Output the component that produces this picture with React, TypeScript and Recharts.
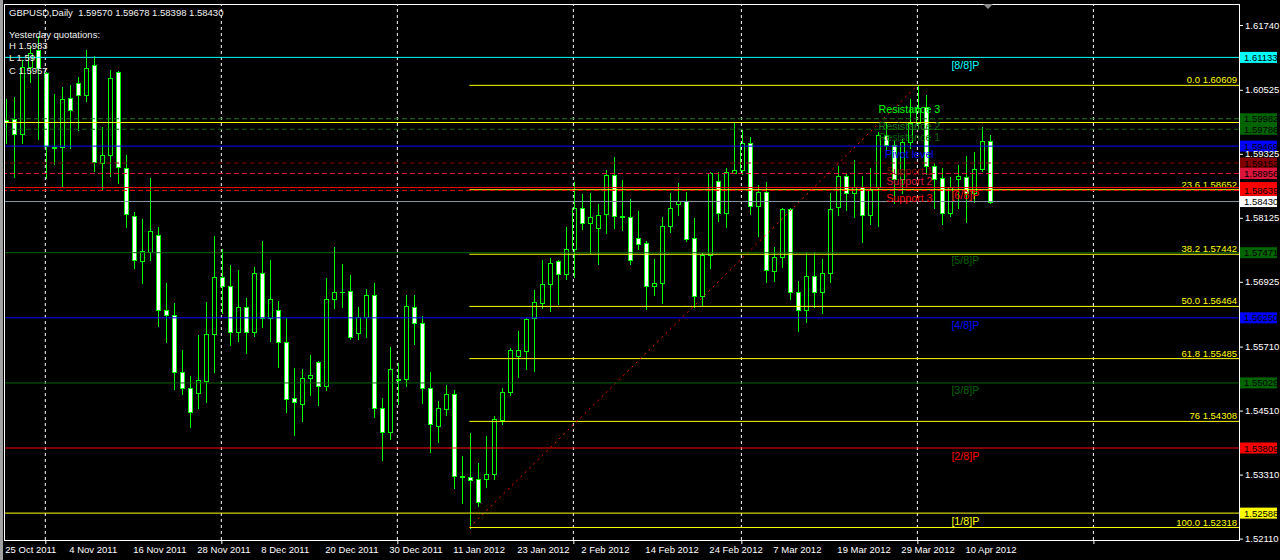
import React from "react";
import { ComposedChart, Bar, XAxis, YAxis, ReferenceLine, ReferenceDot } from "recharts";

const FONT = '"Liberation Sans", Arial, sans-serif';
const LIME = "#00ff00";

// x axis: bar index of each date label
const dateTicks = [0, 8, 16, 24, 32, 40, 48, 56, 64, 72, 80, 88, 96, 104, 112, 120];
const dateLabels = [
  "25 Oct 2011", "4 Nov 2011", "16 Nov 2011", "28 Nov 2011", "8 Dec 2011", "20 Dec 2011",
  "30 Dec 2011", "11 Jan 2012", "23 Jan 2012", "2 Feb 2012", "14 Feb 2012", "24 Feb 2012",
  "7 Mar 2012", "19 Mar 2012", "29 Mar 2012", "10 Apr 2012",
];
// first bar of each month (vertical grid)
const monthGrid = [5, 27, 49, 71, 92, 114, 136];

// price labels that are not covered by the coloured level boxes
const priceTicks = [1.6174, 1.60525, 1.59325, 1.58125, 1.56925, 1.5571, 1.5451, 1.5331, 1.5211];

// daily GBPUSD candles, 25 Oct 2011 .. 13 Apr 2012
const opens = [
  1.59968, 1.59972, 1.59691, 1.60958, 1.61272, 1.60835, 1.59462, 1.59447, 1.60366, 1.60647,
  1.60422, 1.6099, 1.59158, 1.59297, 1.60853, 1.59053, 1.58165, 1.5731, 1.5749, 1.57797,
  1.56391, 1.56297, 1.55228, 1.54928, 1.54846, 1.55071, 1.55941, 1.5701, 1.56841, 1.55978,
  1.56447, 1.55978, 1.57085, 1.56252, 1.56391, 1.55791, 1.54741, 1.5464, 1.55116, 1.55416,
  1.54966, 1.56597, 1.56743, 1.56747, 1.5596, 1.56271, 1.56672, 1.54553, 1.54115, 1.55103,
  1.55097, 1.56447, 1.56147, 1.54928, 1.54227, 1.54546, 1.54816, 1.53284, 1.5326, 1.53222,
  1.53222, 1.53316, 1.54334, 1.54859, 1.5554, 1.55633, 1.56241, 1.56533, 1.56878, 1.5731,
  1.57066, 1.57546, 1.58303, 1.58022, 1.5794, 1.58191, 1.58922, 1.58153, 1.58135, 1.57741,
  1.57647, 1.56852, 1.56897, 1.57977, 1.5839, 1.58435, 1.57741, 1.56665, 1.57428, 1.5881,
  1.5821, 1.58971, 1.59027, 1.59522, 1.58341, 1.58603, 1.57122, 1.57385, 1.58285, 1.56728,
  1.56391, 1.57028, 1.56728, 1.57085, 1.58333, 1.58903, 1.58585, 1.58697, 1.58172, 1.58708,
  1.59678, 1.5949, 1.58847, 1.59541, 1.59903, 1.60203, 1.59097, 1.58866, 1.5821, 1.58858,
  1.58896, 1.58585, 1.59035, 1.5957,
];
const highs = [
  1.60347, 1.60385, 1.61084, 1.61347, 1.61534, 1.60859, 1.60447, 1.60583, 1.60615, 1.60765,
  1.61272, 1.61159, 1.59822, 1.60896, 1.60878, 1.59303, 1.58234, 1.58103, 1.58877, 1.57958,
  1.56903, 1.56528, 1.55647, 1.55159, 1.55928, 1.56547, 1.57784, 1.5754, 1.5724, 1.57147,
  1.56622, 1.57203, 1.5769, 1.57334, 1.56565, 1.56241, 1.55303, 1.5529, 1.55553, 1.5544,
  1.56991, 1.57578, 1.57259, 1.57053, 1.56453, 1.5679, 1.56903, 1.54747, 1.55703, 1.55397,
  1.56678, 1.56678, 1.56284, 1.55234, 1.5469, 1.5499, 1.54891, 1.53659, 1.5409, 1.53522,
  1.54034, 1.54409, 1.54934, 1.55678, 1.56003, 1.56247, 1.56772, 1.57334, 1.57372, 1.57334,
  1.57947, 1.58802, 1.58566, 1.5859, 1.58384, 1.59022, 1.59265, 1.58834, 1.58478, 1.58253,
  1.5769, 1.57353, 1.5814, 1.5859, 1.58772, 1.58609, 1.58122, 1.57465, 1.58984, 1.58984,
  1.59053, 1.59897, 1.59766, 1.5964, 1.5874, 1.58791, 1.57578, 1.58303, 1.58309, 1.56935,
  1.5746, 1.5746, 1.57353, 1.58585, 1.59097, 1.5896, 1.59209, 1.58915, 1.59059, 1.5974,
  1.59897, 1.59584, 1.59603, 1.60353, 1.60609, 1.60428, 1.59147, 1.59053, 1.58896, 1.59115,
  1.59284, 1.59365, 1.5983, 1.59678,
];
const lows = [
  1.59533, 1.58885, 1.59522, 1.60677, 1.59603, 1.58866, 1.59134, 1.58727, 1.59428, 1.59771,
  1.60315, 1.59008, 1.58646, 1.58915, 1.58772, 1.57958, 1.5719, 1.56897, 1.57334, 1.56102,
  1.55797, 1.54915, 1.54822, 1.54208, 1.54565, 1.54677, 1.5524, 1.56346, 1.5574, 1.55815,
  1.55596, 1.55909, 1.56083, 1.55815, 1.55333, 1.5449, 1.54058, 1.54321, 1.54808, 1.54621,
  1.54902, 1.5644, 1.56458, 1.55847, 1.55847, 1.55896, 1.54396, 1.53584, 1.53983, 1.54634,
  1.54977, 1.55759, 1.54658, 1.53734, 1.53927, 1.54433, 1.53065, 1.52783, 1.52318, 1.52722,
  1.53083, 1.53233, 1.54259, 1.54803, 1.55146, 1.5529, 1.55258, 1.5644, 1.56383, 1.56515,
  1.56972, 1.57021, 1.57921, 1.57471, 1.57265, 1.57846, 1.5794, 1.57902, 1.57265, 1.5754,
  1.56421, 1.56683, 1.56533, 1.57865, 1.58178, 1.57696, 1.56458, 1.56472, 1.5719, 1.58065,
  1.57958, 1.5896, 1.58947, 1.58202, 1.5779, 1.56927, 1.5694, 1.57208, 1.56597, 1.56008,
  1.56177, 1.56458, 1.56335, 1.56916, 1.58183, 1.58272, 1.58146, 1.57677, 1.58009, 1.57977,
  1.59397, 1.58397, 1.58585, 1.59428, 1.59809, 1.58947, 1.58303, 1.58009, 1.58165, 1.58315,
  1.58052, 1.58427, 1.59, 1.58398,
];
const closes = [
  1.59922, 1.59691, 1.60947, 1.61221, 1.60928, 1.59472, 1.59443, 1.60347, 1.60141, 1.60422,
  1.60928, 1.59166, 1.59297, 1.60741, 1.59072, 1.58191, 1.57328, 1.57497, 1.57872, 1.56391,
  1.56312, 1.55228, 1.54928, 1.5449, 1.55078, 1.55941, 1.5701, 1.56841, 1.55978, 1.56447,
  1.55978, 1.57085, 1.56252, 1.56597, 1.55802, 1.54733, 1.54666, 1.55116, 1.55172, 1.54966,
  1.56597, 1.56728, 1.56725, 1.55885, 1.5626, 1.56672, 1.54553, 1.54115, 1.55285, 1.55092,
  1.56466, 1.56147, 1.54928, 1.54253, 1.54553, 1.54816, 1.53278, 1.53273, 1.53215, 1.52791,
  1.53322, 1.54347, 1.54859, 1.55641, 1.55641, 1.56228, 1.56541, 1.56878, 1.57272, 1.57066,
  1.57535, 1.58303, 1.58022, 1.58135, 1.58172, 1.58922, 1.58153, 1.58131, 1.57328, 1.57628,
  1.56852, 1.56897, 1.57966, 1.58303, 1.58435, 1.57733, 1.56665, 1.57428, 1.5896, 1.5821,
  1.58978, 1.59022, 1.59522, 1.58341, 1.58603, 1.57141, 1.57385, 1.58285, 1.56728, 1.56391,
  1.57028, 1.56728, 1.57085, 1.58285, 1.58903, 1.58585, 1.58697, 1.58172, 1.58647, 1.59678,
  1.5949, 1.58847, 1.59541, 1.59912, 1.60184, 1.59097, 1.58858, 1.5821, 1.58708, 1.58903,
  1.58585, 1.59035, 1.5957, 1.5843,
];

// Murrey math levels
const murreyLevels = [1.61133, 1.59912, 1.58692, 1.57471, 1.5625, 1.55029, 1.53809, 1.52588];
const murreyNames = ["[8/8]P", "", "[6/8]P", "[5/8]P", "[4/8]P", "[3/8]P", "[2/8]P", "[1/8]P"];
const murreyColors = ["#00ffff", "#ffff00", "#ff0000", "#006400", "#0000ff", "#006400", "#ff0000", "#ffff00"];
// 0 = no price box, 1 = box only (covered), 2 = box with price
const murreyBox = [2, 0, 1, 2, 2, 2, 2, 2];

// fibonacci pivots
const pivotLevels = [1.60299, 1.59982, 1.59786, 1.59469, 1.59152, 1.58956, 1.58639];
const pivotNames = ["Resistance 3", "Resistance 2", "Resistance 1", "Pivot level", "Support 1", "Support 2", "Support 3"];
const pivotColors = ["#00ff00", "#1f7a1f", "#006400", "#0000ff", "#800000", "#dc143c", "#ff0000"];
const pivotDashed = [false, true, true, false, true, true, true];

// fibo retracement low -> high
const fibLow = 1.52318;
const fibHigh = 1.60609;
const fibPcts = ["0.0", "23.6", "38.2", "50.0", "61.8", "76", "100.0"];
const fibLevels = [1.60609, 1.58652, 1.57442, 1.56464, 1.55485, 1.54308, 1.52318];

const bid = 1.5843;

const X_MIN = -0.1625;
const X_MAX = 154.2;

const Candle = (props: any) => {
  const { x, y, width, height, payload } = props;
  if (x == null || y == null) return null;
  const top = Math.min(y, y + height);
  const h = Math.abs(height);
  const c = Math.round(x + width / 2);
  const { open, close, high, low } = payload;
  const span = high - low || 1;
  const py = (v: number) => top + ((high - v) / span) * h;
  const b1 = Math.round(Math.min(py(open), py(close)));
  const b2 = Math.round(Math.max(py(open), py(close)));
  const bear = close < open;
  return (
    <g shapeRendering="crispEdges">
      <line x1={c + 0.5} x2={c + 0.5} y1={Math.round(top)} y2={Math.round(top + h) + 1} stroke={LIME} />
      {b2 - b1 >= 1 ? (
        <rect x={c - 1.5} y={b1 + 0.5} width={4} height={b2 - b1} fill={bear ? "#ffffff" : "#000000"} stroke={LIME} />
      ) : (
        <line x1={c - 2} x2={c + 3} y1={b1 + 0.5} y2={b1 + 0.5} stroke={LIME} />
      )}
    </g>
  );
};

const XTick = (props: any) => {
  const { x, y, payload } = props;
  const idx = dateTicks.indexOf(payload.value);
  return (
    <text x={x} y={y + 13} fill="#ffffff" fontSize={9.5} fontFamily={FONT}>
      {dateLabels[idx]}
    </text>
  );
};

const YTick = (props: any) => {
  const { x, y, payload } = props;
  return (
    <g>
      <line x1={x - 6} x2={x - 2} y1={y + 0.5} y2={y + 0.5} stroke="#ffffff" />
      <text x={x} y={y + 3.5} fill="#ffffff" fontSize={9.5} fontFamily={FONT}>
        {payload.value.toFixed(5)}
      </text>
    </g>
  );
};

const AxisBox = (props: any) => {
  const vb = props.viewBox || {};
  const right = vb.x + vb.width;
  return (
    <g>
      <rect x={right + 1} y={vb.y - 5.5} width={37} height={11} fill={props.bg} />
      {props.text ? (
        <text x={right + 5} y={vb.y + 3.5} fill="#000000" fontSize={9.5} fontFamily={FONT}>
          {props.text}
        </text>
      ) : null}
    </g>
  );
};

const FibText = (props: any) => {
  const vb = props.viewBox || {};
  return (
    <text x={vb.x + vb.width - 2} y={vb.y - 2} textAnchor="end" fill="#ffff00" fontSize={9.5} fontFamily={FONT}>
      {props.text}
    </text>
  );
};

const DotText = (props: any) => {
  const vb = props.viewBox || {};
  const cx = vb.x + vb.width / 2;
  const cy = vb.y + vb.height / 2;
  return (
    <text
      x={cx + (props.dx || 0)}
      y={cy + 11.5}
      textAnchor={props.anchor || "start"}
      fill={props.color}
      fontSize={10.7}
      fontFamily={FONT}
    >
      {props.text}
    </text>
  );
};

const GridTick = (props: any) => {
  const vb = props.viewBox || {};
  const bottom = vb.y + vb.height;
  return <line x1={vb.x + 0.5} x2={vb.x + 0.5} y1={bottom} y2={bottom + 4} stroke="#ffffff" />;
};

export default function App() {
  const data = opens.map((o, i) => ({
    i,
    range: [lows[i], highs[i]],
    open: o,
    high: highs[i],
    low: lows[i],
    close: closes[i],
  }));

  const textStyle: React.CSSProperties = {
    position: "absolute",
    left: 9,
    color: "#f0f0f0",
    fontSize: 9.5,
    lineHeight: "12px",
    whiteSpace: "pre",
    fontFamily: FONT,
  };

  return (
    <div style={{ position: "fixed", left: 0, top: 0, width: 1280, height: 560, background: "#000", overflow: "hidden" }}>
      <ComposedChart width={1280} height={560} data={data} margin={{ top: 4, right: 0, bottom: 0, left: 4 }}>
        <XAxis
          type="number"
          dataKey="i"
          domain={[X_MIN, X_MAX]}
          allowDataOverflow
          ticks={dateTicks}
          interval={0}
          height={20}
          axisLine={false}
          tickLine={false}
          tickSize={0}
          tickMargin={0}
          tick={<XTick />}
        />
        <YAxis
          type="number"
          orientation="right"
          width={41}
          domain={[1.52084, 1.62134]}
          allowDataOverflow
          ticks={priceTicks}
          interval={0}
          axisLine={false}
          tickLine={false}
          tickSize={0}
          tickMargin={6}
          tick={<YTick />}
        />
        {monthGrid.map((m) => (
          <ReferenceLine key={"g" + m} x={m} stroke="#ffffff" strokeDasharray="3 3" label={<GridTick />} />
        ))}
        <Bar dataKey="range" barSize={5} isAnimationActive={false} shape={(p: any) => <Candle {...p} />} />

        {fibLevels.map((v, k) => (
          <ReferenceLine
            key={"f" + k}
            segment={[{ x: 58, y: v }, { x: X_MAX, y: v }]}
            stroke="#ffff00"
            label={<FibText text={fibPcts[k] + " " + v.toFixed(5)} />}
          />
        ))}
        <ReferenceLine
          segment={[{ x: 58, y: fibLow }, { x: 114, y: fibHigh }]}
          stroke="#ff0000"
          strokeDasharray="2 4"
        />

        {murreyLevels.map((v, k) => (
          <ReferenceLine
            key={"m" + k}
            y={v}
            stroke={murreyColors[k]}
            label={murreyBox[k] ? <AxisBox bg={murreyColors[k]} text={murreyBox[k] === 2 ? v.toFixed(5) : ""} /> : undefined}
          />
        ))}
        {pivotLevels.map((v, k) =>
          k === 0 ? null : (
            <ReferenceLine
              key={"p" + k}
              y={v}
              stroke={pivotColors[k]}
              strokeDasharray={pivotDashed[k] ? "5 3" : undefined}
              label={<AxisBox bg={pivotColors[k] === "#1f7a1f" ? "#006400" : pivotColors[k]} text={v.toFixed(5)} />}
            />
          )
        )}
        <ReferenceLine y={bid} stroke="#8796a5" label={<AxisBox bg="#ffffff" text={bid.toFixed(5)} />} />

        {pivotLevels.map((v, k) => (
          <ReferenceDot
            key={"pt" + k}
            x={113}
            y={v}
            r={1}
            fill="none"
            stroke="none"
            label={<DotText text={pivotNames[k]} color={pivotColors[k]} anchor="middle" />}
          />
        ))}
        {murreyLevels.map((v, k) =>
          murreyNames[k] ? (
            <ReferenceDot
              key={"mt" + k}
              x={118}
              y={v}
              r={1}
              fill="none"
              stroke="none"
              label={<DotText text={murreyNames[k]} color={murreyColors[k]} dx={2} />}
            />
          ) : null
        )}
      </ComposedChart>

      <div
        style={{
          position: "absolute",
          left: 4,
          top: 4,
          width: 1236,
          height: 537,
          border: "1px solid #ffffff",
          boxSizing: "border-box",
          pointerEvents: "none",
        }}
      />
      <div style={{ position: "absolute", left: 0, top: 0, width: 3, height: 560, background: "#a0a0a0" }} />
      <svg style={{ position: "absolute", left: 983, top: 4 }} width={11} height={7}>
        <polygon points="0,0 10,0 5,5" fill="#8c8c8c" />
      </svg>

      <div style={{ ...textStyle, top: 7 }}>GBPUSD,Daily  1.59570 1.59678 1.58398 1.58430</div>
      <div style={{ ...textStyle, top: 28.5 }}>Yesterday quotations:</div>
      <div style={{ ...textStyle, top: 40 }}>H 1.5983</div>
      <div style={{ ...textStyle, top: 52 }}>L 1.59</div>
      <div style={{ ...textStyle, top: 64.5 }}>C 1.5957</div>
    </div>
  );
}
